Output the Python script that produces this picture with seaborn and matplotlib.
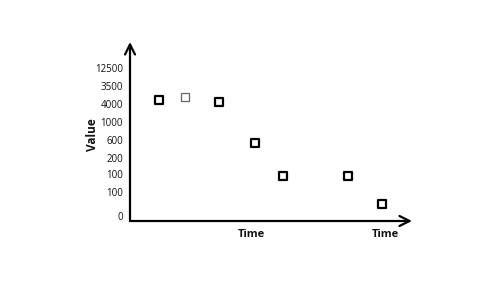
import matplotlib
matplotlib.use("Agg")
import matplotlib.pyplot as plt
import seaborn as sns
import pandas as pd

# data (ordinal value levels on the y axis)
time_pos = [1.04, 1.95, 3.16, 4.43, 5.44, 7.72, 8.93]
value_level = [6.43, 6.60, 6.34, 4.02, 2.22, 2.22, 0.63]
faint = [False, True, False, False, False, False, False]

ytick_levels = [0, 1.3, 2.3, 3.2, 4.2, 5.2, 6.2, 7.2, 8.2]
ytick_labels = ["0", "100", "100", "200", "600", "1000", "4000", "3500", "12500"]
xtick_pos = [4.32, 9.05]
xtick_labels = ["Time", "Time"]

df = pd.DataFrame({"time": time_pos, "level": value_level, "faint": faint})

sns.set_theme(style="white")
plt.rcParams["font.family"] = ["Open Sans", "DejaVu Sans"]

fig = plt.figure(figsize=(5, 2.82), dpi=100)
W, H = 500, 282
ax = fig.add_axes([130 / W, 1 - 221 / H, 282 / W, 179 / H])
ax.set_facecolor("white")

solid = df[~df["faint"]]
light = df[df["faint"]]
sns.scatterplot(data=solid, x="time", y="level", marker="s", s=30,
                facecolor="white", edgecolor="black", linewidth=1.6, ax=ax, zorder=3)
sns.scatterplot(data=light, x="time", y="level", marker="s", s=28,
                facecolor="white", edgecolor="#666666", linewidth=0.9,
                ax=ax, zorder=3)

ax.set_xlim(0, 10)
ax.set_ylim(-0.3, 9.65)
for sp in ax.spines.values():
    sp.set_visible(False)

# arrow axes
ax.annotate("", xy=(1, 0), xytext=(0, 0), xycoords="axes fraction",
            arrowprops=dict(arrowstyle="->,head_length=0.6,head_width=0.3",
                            color="black", lw=1.6, shrinkA=0, shrinkB=0))
ax.annotate("", xy=(0, 1), xytext=(0, 0), xycoords="axes fraction",
            arrowprops=dict(arrowstyle="->,head_length=0.6,head_width=0.3",
                            color="black", lw=1.6, shrinkA=0, shrinkB=0))

ax.set_yticks(ytick_levels)
ax.set_yticklabels(ytick_labels, fontsize=7, color="#111111")
ax.set_xticks(xtick_pos)
ax.set_xticklabels(xtick_labels, fontsize=8, fontweight="bold", color="#111111")
ax.tick_params(axis="y", length=0, pad=5)
ax.tick_params(axis="x", length=0, pad=6)

ax.set_xlabel("")
ax.set_ylabel("Value", fontsize=8.5, fontweight="bold", color="#111111")
ax.yaxis.set_label_coords(-0.11, 0.48)

fig.savefig("out.png", dpi=100, facecolor="white")
